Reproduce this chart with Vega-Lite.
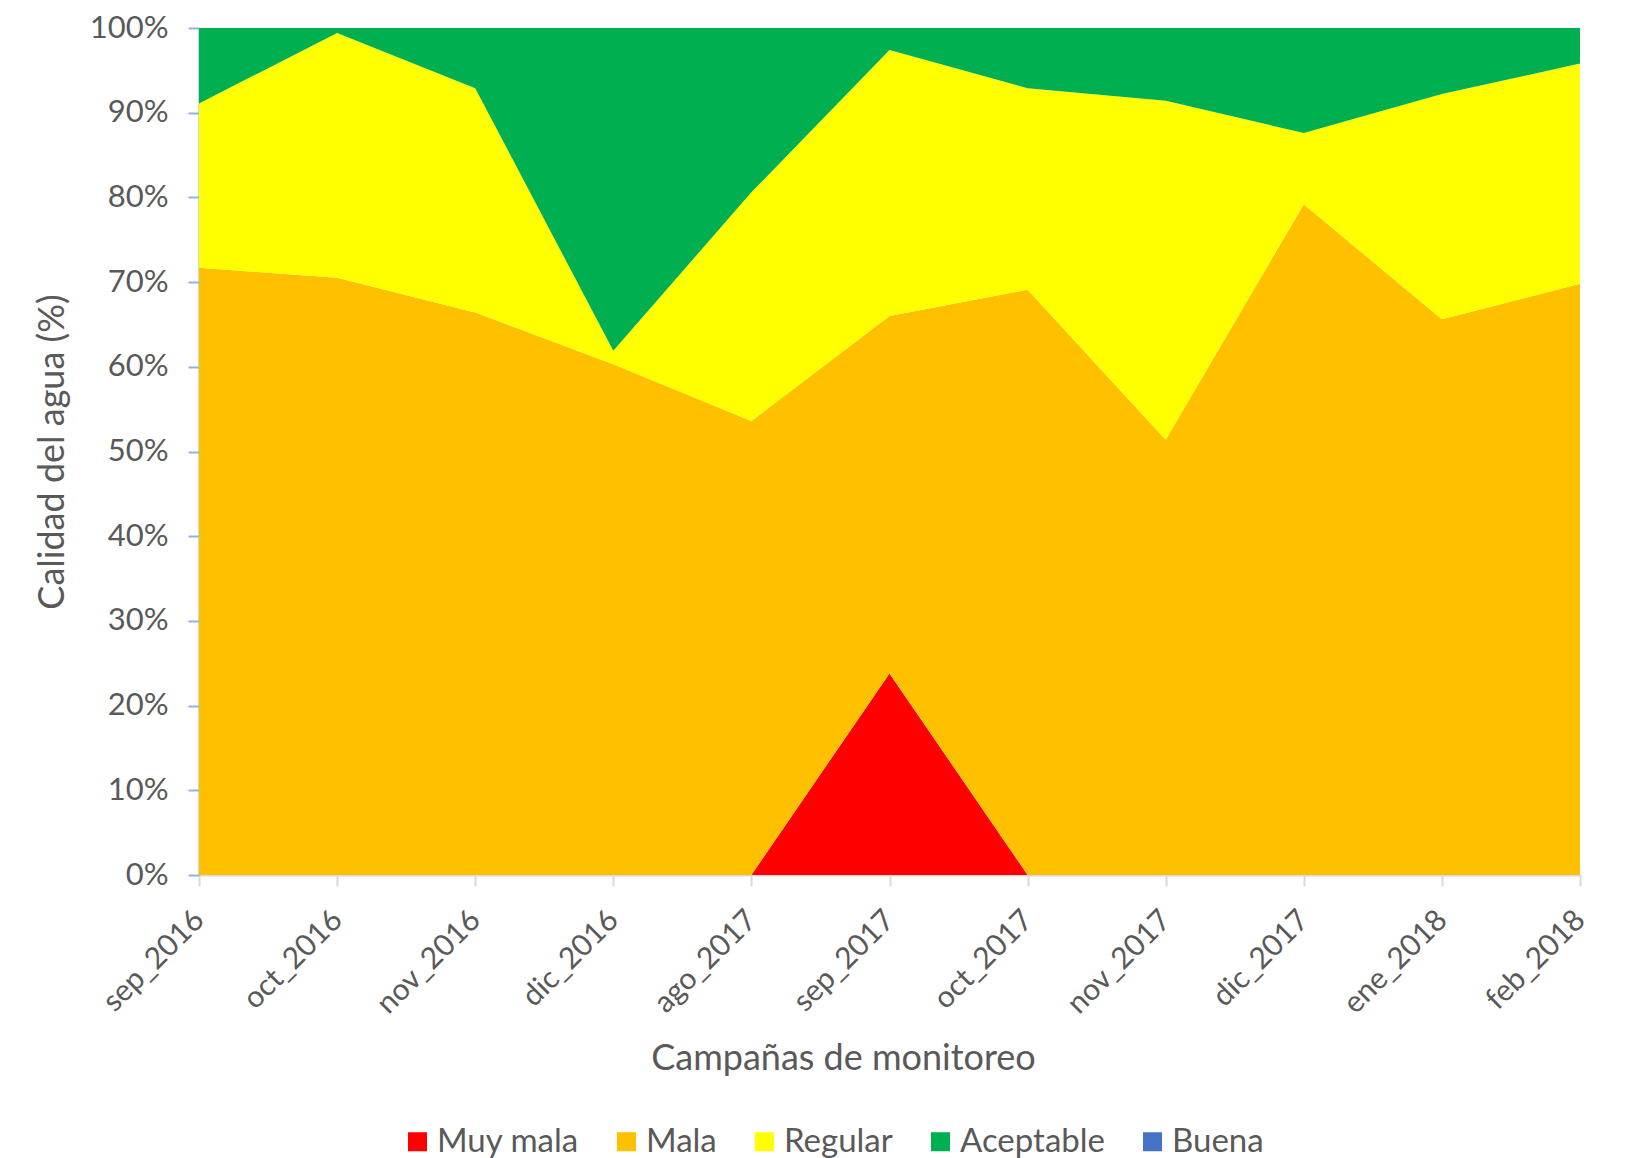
{
  "$schema": "https://vega.github.io/schema/vega-lite/v6.json",
  "width": 1381,
  "height": 847,
  "autosize": {"type": "none"},
  "padding": {"left": 199, "top": 28, "right": 50, "bottom": 283},
  "background": "white",
  "config": {
    "font": "Lato",
    "view": {"stroke": null},
    "axis": {"labelColor": "#595959", "titleColor": "#595959", "labelFont": "Lato", "titleFont": "Lato", "titleFontWeight": "normal", "grid": false},
    "legend": {"labelColor": "#595959", "labelFont": "Lato"}
  },
  "data": {
    "values": [
      {"campana": "sep_2016", "calidad": "Muy mala", "orden": 1, "valor": 0},
      {"campana": "sep_2016", "calidad": "Mala", "orden": 2, "valor": 0.717},
      {"campana": "sep_2016", "calidad": "Regular", "orden": 3, "valor": 0.194},
      {"campana": "sep_2016", "calidad": "Aceptable", "orden": 4, "valor": 0.089},
      {"campana": "sep_2016", "calidad": "Buena", "orden": 5, "valor": 0},
      {"campana": "oct_2016", "calidad": "Muy mala", "orden": 1, "valor": 0},
      {"campana": "oct_2016", "calidad": "Mala", "orden": 2, "valor": 0.705},
      {"campana": "oct_2016", "calidad": "Regular", "orden": 3, "valor": 0.289},
      {"campana": "oct_2016", "calidad": "Aceptable", "orden": 4, "valor": 0.006},
      {"campana": "oct_2016", "calidad": "Buena", "orden": 5, "valor": 0},
      {"campana": "nov_2016", "calidad": "Muy mala", "orden": 1, "valor": 0},
      {"campana": "nov_2016", "calidad": "Mala", "orden": 2, "valor": 0.664},
      {"campana": "nov_2016", "calidad": "Regular", "orden": 3, "valor": 0.265},
      {"campana": "nov_2016", "calidad": "Aceptable", "orden": 4, "valor": 0.071},
      {"campana": "nov_2016", "calidad": "Buena", "orden": 5, "valor": 0},
      {"campana": "dic_2016", "calidad": "Muy mala", "orden": 1, "valor": 0},
      {"campana": "dic_2016", "calidad": "Mala", "orden": 2, "valor": 0.603},
      {"campana": "dic_2016", "calidad": "Regular", "orden": 3, "valor": 0.016},
      {"campana": "dic_2016", "calidad": "Aceptable", "orden": 4, "valor": 0.381},
      {"campana": "dic_2016", "calidad": "Buena", "orden": 5, "valor": 0},
      {"campana": "ago_2017", "calidad": "Muy mala", "orden": 1, "valor": 0},
      {"campana": "ago_2017", "calidad": "Mala", "orden": 2, "valor": 0.536},
      {"campana": "ago_2017", "calidad": "Regular", "orden": 3, "valor": 0.270},
      {"campana": "ago_2017", "calidad": "Aceptable", "orden": 4, "valor": 0.194},
      {"campana": "ago_2017", "calidad": "Buena", "orden": 5, "valor": 0},
      {"campana": "sep_2017", "calidad": "Muy mala", "orden": 1, "valor": 0.238},
      {"campana": "sep_2017", "calidad": "Mala", "orden": 2, "valor": 0.422},
      {"campana": "sep_2017", "calidad": "Regular", "orden": 3, "valor": 0.314},
      {"campana": "sep_2017", "calidad": "Aceptable", "orden": 4, "valor": 0.026},
      {"campana": "sep_2017", "calidad": "Buena", "orden": 5, "valor": 0},
      {"campana": "oct_2017", "calidad": "Muy mala", "orden": 1, "valor": 0},
      {"campana": "oct_2017", "calidad": "Mala", "orden": 2, "valor": 0.691},
      {"campana": "oct_2017", "calidad": "Regular", "orden": 3, "valor": 0.238},
      {"campana": "oct_2017", "calidad": "Aceptable", "orden": 4, "valor": 0.071},
      {"campana": "oct_2017", "calidad": "Buena", "orden": 5, "valor": 0},
      {"campana": "nov_2017", "calidad": "Muy mala", "orden": 1, "valor": 0},
      {"campana": "nov_2017", "calidad": "Mala", "orden": 2, "valor": 0.514},
      {"campana": "nov_2017", "calidad": "Regular", "orden": 3, "valor": 0.400},
      {"campana": "nov_2017", "calidad": "Aceptable", "orden": 4, "valor": 0.086},
      {"campana": "nov_2017", "calidad": "Buena", "orden": 5, "valor": 0},
      {"campana": "dic_2017", "calidad": "Muy mala", "orden": 1, "valor": 0},
      {"campana": "dic_2017", "calidad": "Mala", "orden": 2, "valor": 0.792},
      {"campana": "dic_2017", "calidad": "Regular", "orden": 3, "valor": 0.084},
      {"campana": "dic_2017", "calidad": "Aceptable", "orden": 4, "valor": 0.124},
      {"campana": "dic_2017", "calidad": "Buena", "orden": 5, "valor": 0},
      {"campana": "ene_2018", "calidad": "Muy mala", "orden": 1, "valor": 0},
      {"campana": "ene_2018", "calidad": "Mala", "orden": 2, "valor": 0.656},
      {"campana": "ene_2018", "calidad": "Regular", "orden": 3, "valor": 0.266},
      {"campana": "ene_2018", "calidad": "Aceptable", "orden": 4, "valor": 0.078},
      {"campana": "ene_2018", "calidad": "Buena", "orden": 5, "valor": 0},
      {"campana": "feb_2018", "calidad": "Muy mala", "orden": 1, "valor": 0},
      {"campana": "feb_2018", "calidad": "Mala", "orden": 2, "valor": 0.698},
      {"campana": "feb_2018", "calidad": "Regular", "orden": 3, "valor": 0.260},
      {"campana": "feb_2018", "calidad": "Aceptable", "orden": 4, "valor": 0.042},
      {"campana": "feb_2018", "calidad": "Buena", "orden": 5, "valor": 0}
    ]
  },
  "mark": {"type": "area", "interpolate": "linear", "strokeWidth": 0},
  "encoding": {
    "x": {
      "field": "campana",
      "type": "ordinal",
      "sort": null,
      "scale": {"type": "point", "padding": 0},
      "axis": {
        "title": "Campañas de monitoreo",
        "titleFontSize": 36,
        "titlePadding": 22,
        "titleX": 644,
        "titleAlign": "center",
        "titleAnchor": null,
        "labelFontSize": 30,
        "labelAngle": -45,
        "labelAlign": "right",
        "labelBaseline": "middle",
        "labelPadding": 29,
        "domainColor": "#D9D9D9",
        "domainWidth": 2,
        "tickColor": "#D9D9D9",
        "tickWidth": 2,
        "tickSize": 11
      }
    },
    "y": {
      "field": "valor",
      "type": "quantitative",
      "stack": "zero",
      "scale": {"domain": [0, 1], "nice": false},
      "axis": {
        "title": "Calidad del agua (%)",
        "titleFontSize": 36,
        "titlePadding": 18,
        "labelFontSize": 31,
        "labelPadding": 20,
        "format": ".0%",
        "values": [0, 0.1, 0.2, 0.3, 0.4, 0.5, 0.6, 0.7, 0.8, 0.9, 1],
        "domainColor": "#8EB4E3",
        "domainWidth": 2,
        "tickColor": "#8EB4E3",
        "tickWidth": 2,
        "tickSize": 11
      }
    },
    "color": {
      "field": "calidad",
      "type": "nominal",
      "scale": {
        "domain": ["Muy mala", "Mala", "Regular", "Aceptable", "Buena"],
        "range": ["#FF0000", "#FFC000", "#FFFF00", "#00B050", "#4472C4"]
      },
      "legend": {
        "title": null,
        "orient": "none",
        "direction": "horizontal",
        "legendX": 202,
        "legendY": 1097,
        "symbolType": "square",
        "symbolSize": 361,
        "symbolStrokeWidth": 0,
        "symbolOpacity": 1,
        "labelFontSize": 33,
        "labelOffset": 3,
        "columnPadding": 31
      }
    },
    "order": {"field": "orden", "type": "quantitative"}
  }
}
